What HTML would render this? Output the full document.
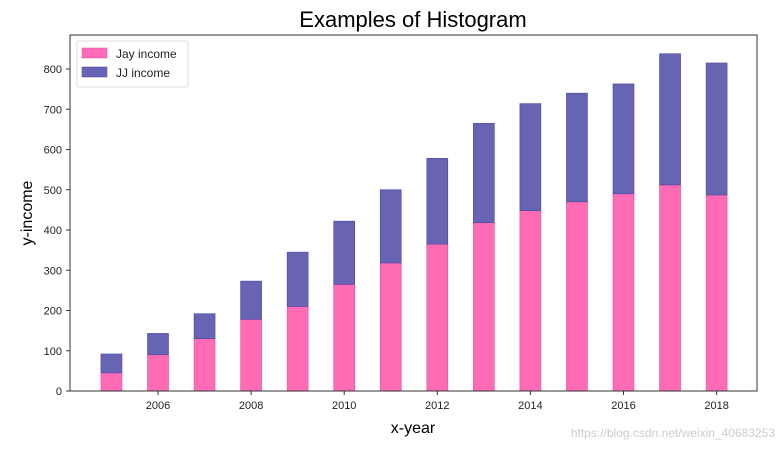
<!DOCTYPE html>
<html><head><meta charset="utf-8"><style>
body{margin:0;background:#fff;font-family:"Liberation Sans","DejaVu Sans",sans-serif}
</style></head><body>
<svg id="chart" width="784" height="449" xmlns="http://www.w3.org/2000/svg">
<text x="413" y="27" font-size="22" text-anchor="middle" fill="#000">Examples of Histogram</text>
<text x="413" y="433" font-size="16" text-anchor="middle" fill="#000">x-year</text>
<text x="32" y="213" font-size="16" text-anchor="middle" fill="#000" transform="rotate(-90 32 213)">y-income</text>
<g id="bars"></g><g id="axes"></g>
<g>
<rect x="77" y="41" width="111" height="46" fill="#fff" stroke="#ddd" rx="2"/>
<rect x="82" y="48" width="25" height="10" fill="#ff6cb5" stroke="#e0509a" stroke-width="0.5"/>
<text x="116" y="58" font-size="12" fill="#222">Jay income</text>
<rect x="82" y="67" width="25" height="10" fill="#6864b4" stroke="#4a45a0" stroke-width="0.5"/>
<text x="116" y="77" font-size="12" fill="#222">JJ income</text>
</g>
<text x="775" y="437" font-size="12" text-anchor="end" fill="#ccc">https://blog.csdn.net/weixin_40683253</text>
</svg>
<script>
const years=[2005,2006,2007,2008,2009,2010,2011,2012,2013,2014,2015,2016,2017,2018];
const jayIncome=[45,90,130,178,210,265,318,365,418,448,470,490,512,487];
const jjIncome=[47,53,62,95,135,157,182,213,247,266,270,273,326,328];
const yTicks=[0,100,200,300,400,500,600,700,800];
const xTicks=[2006,2008,2010,2012,2014,2016,2018];
const L=70,R=757,T=35,B=391;
const xs=y=>158+(y-2006)*46.55;
const ys=v=>B-v*0.4025;
const NS="http://www.w3.org/2000/svg";
const bars=document.getElementById('bars'),axes=document.getElementById('axes');
function mk(tag,attrs,parent){const e=document.createElementNS(NS,tag);for(const k in attrs)e.setAttribute(k,attrs[k]);parent.appendChild(e);return e;}
years.forEach((yr,i)=>{
 const cx=xs(yr),w=21;
 const a=mk('rect',{x:cx-w/2,y:ys(jayIncome[i]),width:w,height:B-ys(jayIncome[i]),fill:'#ff6cb5',stroke:'#e0509a','stroke-width':0.6},bars);
 
 
 const top=jayIncome[i]+jjIncome[i];
 const b=mk('rect',{x:cx-w/2,y:ys(top),width:w,height:ys(jayIncome[i])-ys(top),fill:'#6864b4',stroke:'#4a45a0','stroke-width':0.6},bars);
 
 
});
const fr=mk('rect',{x:L,y:T,width:R-L,height:B-T,fill:'none',stroke:'#333','stroke-width':1},axes);


yTicks.forEach(v=>{
 mk('line',{x1:L-4,x2:L,y1:ys(v),y2:ys(v),stroke:'#333'},axes);
 const t=mk('text',{x:L-8,y:ys(v)+4,'font-size':11,'text-anchor':'end',fill:'#222'},axes);
 t.textContent=v;
 
 
});
xTicks.forEach(v=>{
 mk('line',{x1:xs(v),x2:xs(v),y1:B,y2:B+4,stroke:'#333'},axes);
 const t=mk('text',{x:xs(v),y:B+18,'font-size':11,'text-anchor':'middle',fill:'#222'},axes);
 t.textContent=v;
 
 
});
</script>
</body></html>
